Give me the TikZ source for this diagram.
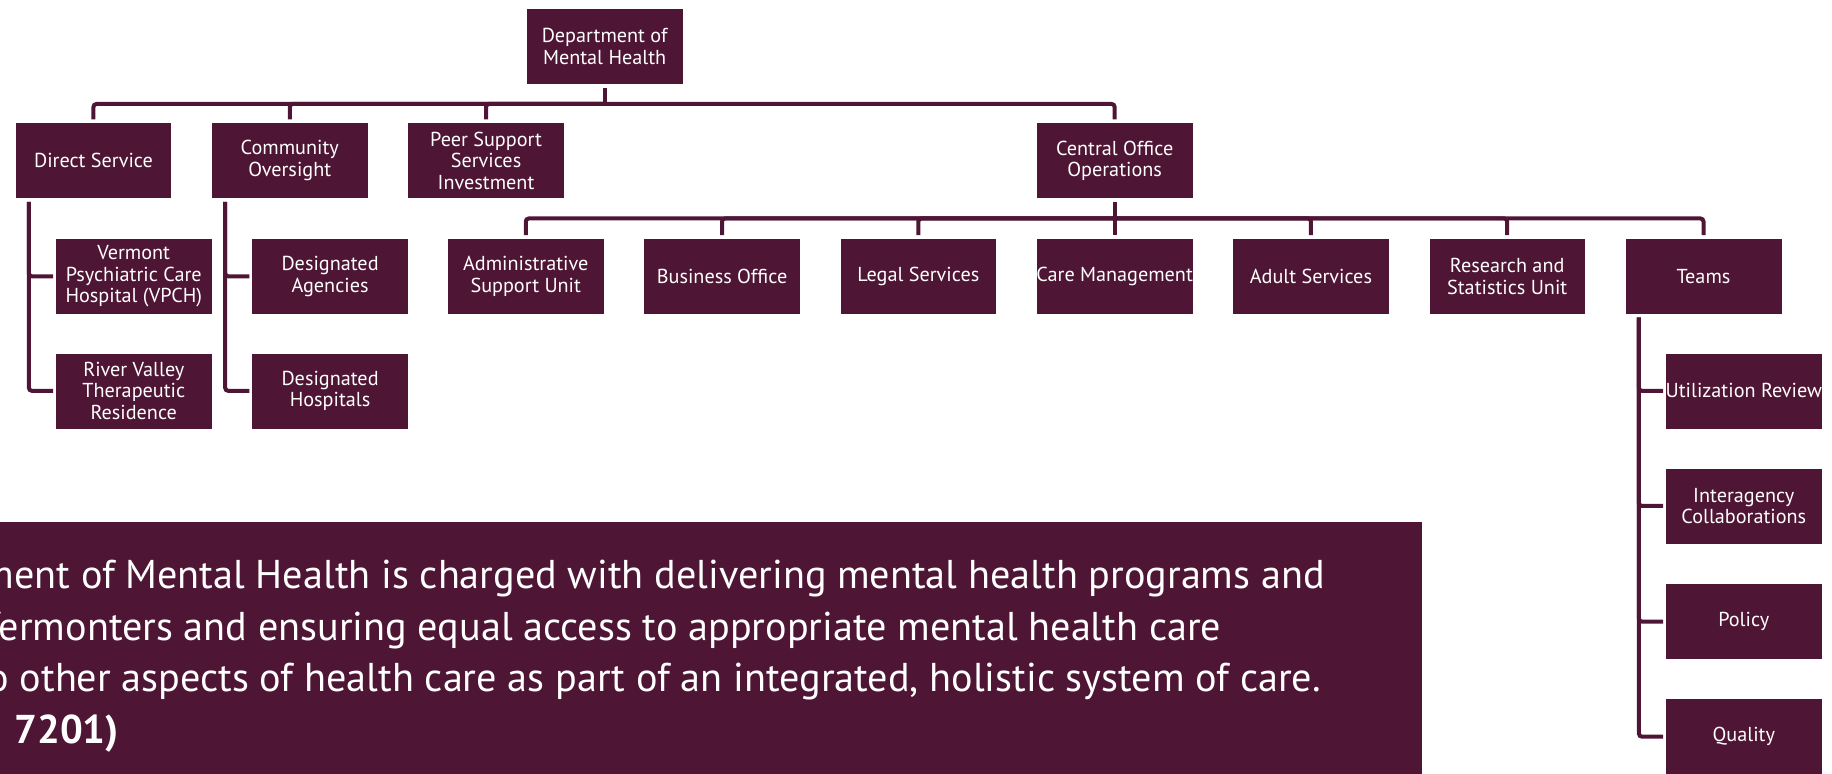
\documentclass[tikz,border=0pt]{standalone}
\usepackage{fontspec}
\setmainfont{PT Sans}
\definecolor{dmhred}{HTML}{4E1634}
\tikzset{
  unit/.style={fill=dmhred, text=white, draw=white, line width=0.3pt,
    minimum width=78.3pt, minimum height=38pt, inner sep=0pt, align=center,
    font=\fontsize{10.1}{10.8}\selectfont},
  conn/.style={draw=dmhred, line width=2pt, line cap=rect, rounded corners=1.5pt},
  body/.style={anchor=base west, text=white, inner sep=0pt,
    font=\fontsize{20.1}{22}\selectfont}
}
\begin{document}
\begin{tikzpicture}[x=0.5842pt, y=-0.5842pt]
\useasboundingbox (0,0) rectangle (1568,662);
\clip (0,0) rectangle (1568,662);

% top of the chart
\node[unit] (dmh) at (517.5,40) {Department of\\Mental Health};

% first level
\node[unit] (ds)  at (80,137.5)  {Direct Service};
\node[unit] (co)  at (248,137.5) {Community\\Oversight};
\node[unit] (ps)  at (416,137.5) {Peer Support\\Services\\Investment};
\node[unit] (coo) at (954,137.5) {Central Office\\Operations};

% central office units
\node[unit] (asu) at (450,236.5)  {Administrative\\Support Unit};
\node[unit] (bo)  at (618,236.5)  {Business Office};
\node[unit] (ls)  at (786,236.5)  {Legal Services};
\node[unit] (cm)  at (954,236.5)  {Care Management};
\node[unit] (as)  at (1122,236.5) {Adult Services};
\node[unit] (rs)  at (1290,236.5) {Research and\\Statistics Unit};
\node[unit] (tm)  at (1458,236.5) {Teams};

% direct service facilities
\node[unit] (vpch) at (114.5,236.5) {Vermont\\Psychiatric Care\\Hospital (VPCH)};
\node[unit] (rv)   at (114.5,334.5) {River Valley\\Therapeutic\\Residence};

% community oversight
\node[unit] (da) at (282.5,236.5) {Designated\\Agencies};
\node[unit] (dh) at (282.5,334.5) {Designated\\Hospitals};

% teams
\node[unit] (ur)  at (1492.5,334.5) {Utilization Review};
\node[unit] (ic)  at (1492.5,433)   {Interagency\\Collaborations};
\node[unit] (pol) at (1492.5,532)   {Policy};
\node[unit] (ql)  at (1492.5,630.5) {Quality};

% connectors: top level bus
\coordinate (bus1) at (517.5,89);
\draw[conn] ([yshift=-2.5pt]dmh.south) -- (bus1);
\draw[conn] ([yshift=2.5pt]ds.north)  |- (bus1);
\draw[conn] ([yshift=2.5pt]co.north)  |- (bus1);
\draw[conn] ([yshift=2.5pt]ps.north)  |- (bus1);
\draw[conn] ([yshift=2.5pt]coo.north) |- (bus1);

% connectors: central office bus
\coordinate (bus2) at (954,187);
\draw[conn] ([yshift=-2.5pt]coo.south) -- ([yshift=2.5pt]cm.north);
\foreach \n in {asu,bo,ls,as,rs,tm}
  \draw[conn] ([yshift=2.5pt]\n.north) |- (bus2);

% connectors: side branches
\coordinate (dsv) at ([xshift=7pt,yshift=-2.5pt]ds.south west);
\draw[conn] (dsv) |- ([xshift=-2pt]vpch.west);
\draw[conn] (dsv) |- ([xshift=-2pt]rv.west);

\coordinate (cov) at ([xshift=7pt,yshift=-2.5pt]co.south west);
\draw[conn] (cov) |- ([xshift=-2pt]da.west);
\draw[conn] (cov) |- ([xshift=-2pt]dh.west);

\coordinate (tmv) at ([xshift=7pt,yshift=-2.5pt]tm.south west);
\foreach \n in {ur,ic,pol,ql}
  \draw[conn] (tmv) |- ([xshift=-2pt]\n.west);

% mission statement panel
\fill[dmhred] (-10,447) rectangle (1217,672);
\node[body] (l1) at (-16,504) {ment of Mental Health is charged with delivering mental health programs and};
\node[body] (l2) at (-19,548) {Vermonters and ensuring equal access to appropriate mental health care};
\node[body] (l3) at (-11,592) {o other aspects of health care as part of an integrated, holistic system of care.};
\node[body,font=\fontsize{20.1}{22}\selectfont\bfseries] (l4) at (12,636) {7201)};
\end{tikzpicture}
\end{document}
